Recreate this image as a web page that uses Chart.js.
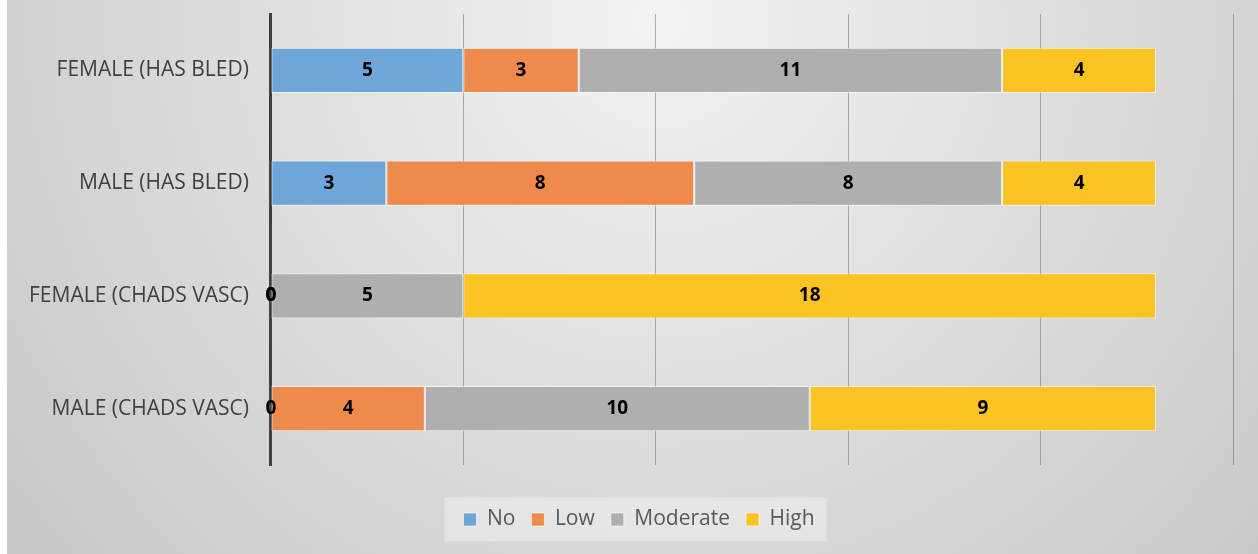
<!DOCTYPE html>
<html>
<head>
<meta charset="utf-8">
<script src="https://cdn.jsdelivr.net/npm/chart.js@4"></script>
<style>
  html, body { margin: 0; padding: 0; background: #fff; }
  #wrap { width: 1258px; height: 554px; }
</style>
</head>
<body>
<div id="wrap"><canvas id="risk-chart"></canvas></div>
<script>
const categories = ['FEMALE (HAS BLED)', 'MALE (HAS BLED)', 'FEMALE (CHADS VASC)', 'MALE (CHADS VASC)'];
const noValues = [5, 3, 0, 0];
const lowValues = [3, 8, 0, 4];
const moderateValues = [11, 8, 5, 10];
const highValues = [4, 4, 18, 9];
const xTicks = [0, 5, 10, 15, 20, 25];

const backgroundPlugin = {
    id: 'bg',
    afterLayout(chart) {
        // nudge the legend a little to the right, like the original
        const legend = chart.legend;
        legend.left += 19;
        legend.right += 19;
        (legend.legendHitBoxes || []).forEach((b) => { b.left += 19; });
    },
    beforeDraw(chart) {
        const { ctx, width, height } = chart;
        ctx.save();
        const g = ctx.createRadialGradient(660, 20, 0, 660, 20, 900);
        g.addColorStop(0, '#f3f3f3');
        g.addColorStop(1, '#c4c4c4');
        ctx.fillStyle = g;
        ctx.fillRect(0, 0, width, height);
        ctx.fillStyle = '#ffffff';
        ctx.fillRect(0, 0, 7, height);

        // legend panel
        const boxes = chart.legend.legendHitBoxes;
        if (boxes && boxes.length) {
            const first = boxes[0];
            const last = boxes[boxes.length - 1];
            const midY = first.top + first.height / 2;
            ctx.fillStyle = 'rgba(255, 255, 255, 0.35)';
            ctx.fillRect(first.left - 19, midY - 22, last.left + last.width - first.left + 31, 44);
        }
        ctx.restore();
    },
};

const valueLabels = {
    id: 'valueLabels',
    afterDatasetsDraw(chart) {
        const { ctx } = chart;
        ctx.save();
        ctx.font = 'bold 19px "Open Sans", sans-serif';
        ctx.fillStyle = '#000000';
        ctx.textAlign = 'center';
        ctx.textBaseline = 'middle';
        chart.data.datasets.forEach((ds, i) => {
            chart.getDatasetMeta(i).data.forEach((bar, j) => {
                const cx = (bar.x + bar.base) / 2;
                ctx.fillText(String(ds.data[j]), cx, bar.y);
            });
        });
        ctx.restore();
    },
};

const barStyle = {
    borderColor: 'rgba(255, 255, 255, 0.6)',
    borderWidth: 1,
    borderSkipped: false,
    barPercentage: 0.4,
    categoryPercentage: 1,
};

new Chart(document.getElementById('risk-chart'), {
    type: 'bar',
    data: {
        labels: categories,
        datasets: [
            { label: 'No', data: noValues, backgroundColor: '#6fa6da', ...barStyle },
            { label: 'Low', data: lowValues, backgroundColor: '#ee8b4c', ...barStyle },
            { label: 'Moderate', data: moderateValues, backgroundColor: '#afafaf', ...barStyle },
            { label: 'High', data: highValues, backgroundColor: '#fbc323', ...barStyle },
        ],
    },
    options: {
        indexAxis: 'y',
        responsive: true,
        maintainAspectRatio: false,
        animation: false,
        layout: { padding: { top: 14, right: 25, bottom: 14, left: 7 } },
        plugins: {
            legend: {
                position: 'bottom',
                labels: {
                    color: '#595959',
                    font: { size: 21, family: '"Open Sans", sans-serif' },
                    boxWidth: 13,
                    boxHeight: 13,
                    padding: 16,
                },
            },
            tooltip: { enabled: false },
        },
        scales: {
            x: {
                stacked: true,
                min: xTicks[0],
                max: xTicks[xTicks.length - 1],
                afterBuildTicks: (scale) => { scale.ticks = xTicks.map((v) => ({ value: v })); },
                afterFit: (scale) => { scale.height = 28; },
                ticks: { display: false },
                grid: { color: 'rgba(90, 90, 90, 0.45)', lineWidth: 1, drawTicks: false },
                border: { display: false },
            },
            y: {
                stacked: true,
                afterFit: (scale) => { scale.paddingTop = 0; scale.paddingBottom = 0; },
                grid: { display: false, drawTicks: false },
                border: { color: '#404040', width: 3 },
                ticks: {
                    color: '#404040',
                    padding: 22,
                    font: { size: 21, family: '"Open Sans", sans-serif' },
                },
            },
        },
    },
    plugins: [backgroundPlugin, valueLabels],
});
</script>
</body>
</html>
